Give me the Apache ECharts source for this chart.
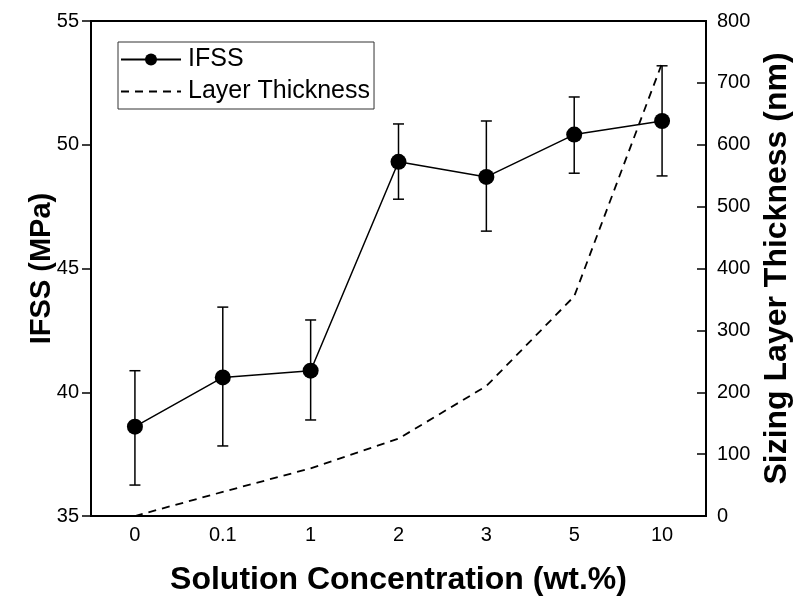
<!DOCTYPE html>
<html>
<head>
<meta charset="utf-8">
<script src="https://cdn.jsdelivr.net/npm/echarts@6/dist/echarts.min.js"></script>
<style>
html,body{margin:0;padding:0;background:#fff;}
#chart{width:793px;height:598px;}
</style>
</head>
<body>
<div id="chart"></div>
<script>
var categories = ['0', '0.1', '1', '2', '3', '5', '10'];
var ifss = [38.61, 40.60, 40.87, 49.31, 48.70, 50.41, 50.96];
var ifssLow = [36.25, 37.83, 38.88, 47.80, 46.51, 48.85, 48.74];
var ifssHigh = [40.87, 43.44, 42.92, 50.84, 50.96, 51.93, 53.19];
var thickness = [0, 39, 77, 125, 210, 355, 732];
var leftTicks = [35, 40, 45, 50, 55];
var rightTicks = [0, 100, 200, 300, 400, 500, 600, 700, 800];

var errData = categories.map(function (c, i) { return [i, ifssLow[i], ifssHigh[i]]; });

var font = 'Liberation Sans, Arial, sans-serif';
var chart = echarts.init(document.getElementById('chart'));
chart.setOption({
  backgroundColor: '#fff',
  animation: false,
  textStyle: { fontFamily: font },
  grid: { left: 91, right: 87, top: 21, bottom: 82, outerBoundsMode: 'none', containLabel: false,
          show: true, borderColor: '#000', borderWidth: 2, backgroundColor: 'transparent' },
  legend: {
    orient: 'vertical', left: 118, top: 42, padding: [5, 4, 5, 2],
    borderColor: '#333', borderWidth: 1, itemGap: 7,
    itemWidth: 60, itemHeight: 15,
    textStyle: { fontSize: 25, color: '#000', fontFamily: font, padding: [0, 0, 0, 2] },
    data: [
      { name: 'IFSS' },
      { name: 'Layer Thickness', itemStyle: { opacity: 0 } }
    ]
  },
  xAxis: {
    type: 'category', data: categories, boundaryGap: true,
    name: 'Solution Concentration (wt.%)', nameLocation: 'middle', nameGap: 48,
    nameTextStyle: { fontSize: 32, fontWeight: 'bold', color: '#000', fontFamily: font },
    axisLine: { lineStyle: { color: '#000', width: 2 } },
    axisTick: { alignWithLabel: true, inside: true, length: 9, lineStyle: { color: '#000', width: 1.5 } },
    axisLabel: { fontSize: 20, color: '#000', margin: 9, fontFamily: font },
    splitLine: { show: false }
  },
  yAxis: [{
    type: 'value', min: leftTicks[0], max: leftTicks[leftTicks.length - 1], interval: 5,
    name: 'IFSS (MPa)', nameLocation: 'middle', nameGap: 35, nameMoveOverlap: false,
    nameTextStyle: { fontSize: 29, fontWeight: 'bold', color: '#000', fontFamily: font },
    axisLine: { show: true, lineStyle: { color: '#000', width: 2 } },
    axisTick: { show: true, inside: false, length: 9, lineStyle: { color: '#000', width: 1.5 } },
    axisLabel: { fontSize: 20, color: '#000', margin: 12, fontFamily: font },
    splitLine: { show: false }
  }, {
    type: 'value', min: rightTicks[0], max: rightTicks[rightTicks.length - 1], interval: 100,
    position: 'right',
    name: 'Sizing Layer Thickness (nm)', nameLocation: 'middle', nameGap: 55, nameRotate: 90,
    nameTextStyle: { fontSize: 32, fontWeight: 'bold', color: '#000', fontFamily: font },
    axisLine: { show: true, lineStyle: { color: '#000', width: 2 } },
    axisTick: { show: true, inside: true, length: 9, lineStyle: { color: '#000', width: 1.5 } },
    axisLabel: { fontSize: 20, color: '#000', margin: 11, fontFamily: font },
    splitLine: { show: false }
  }],
  series: [{
    name: 'IFSS', type: 'line', yAxisIndex: 0, data: ifss,
    symbol: 'circle', symbolSize: 16,
    itemStyle: { color: '#000' },
    lineStyle: { color: '#000', width: 1.5 },
    z: 3
  }, {
    name: 'Layer Thickness', type: 'line', yAxisIndex: 1, data: thickness,
    symbol: 'none', showSymbol: false,
    itemStyle: { color: '#000' },
    lineStyle: { color: '#000', width: 1.8, type: [8, 6] },
    z: 2
  }, {
    name: 'err', type: 'custom', yAxisIndex: 0, data: errData,
    renderItem: function (params, api) {
      var lo = api.coord([api.value(0), api.value(1)]);
      var hi = api.coord([api.value(0), api.value(2)]);
      var hw = 5.5;
      var st = { stroke: '#000', lineWidth: 1.5, fill: null };
      return { type: 'group', children: [
        { type: 'line', shape: { x1: lo[0], y1: lo[1], x2: hi[0], y2: hi[1] }, style: st },
        { type: 'line', shape: { x1: lo[0] - hw, y1: lo[1], x2: lo[0] + hw, y2: lo[1] }, style: st },
        { type: 'line', shape: { x1: hi[0] - hw, y1: hi[1], x2: hi[0] + hw, y2: hi[1] }, style: st }
      ] };
    },
    z: 4
  }]
});
</script>
</body>
</html>
